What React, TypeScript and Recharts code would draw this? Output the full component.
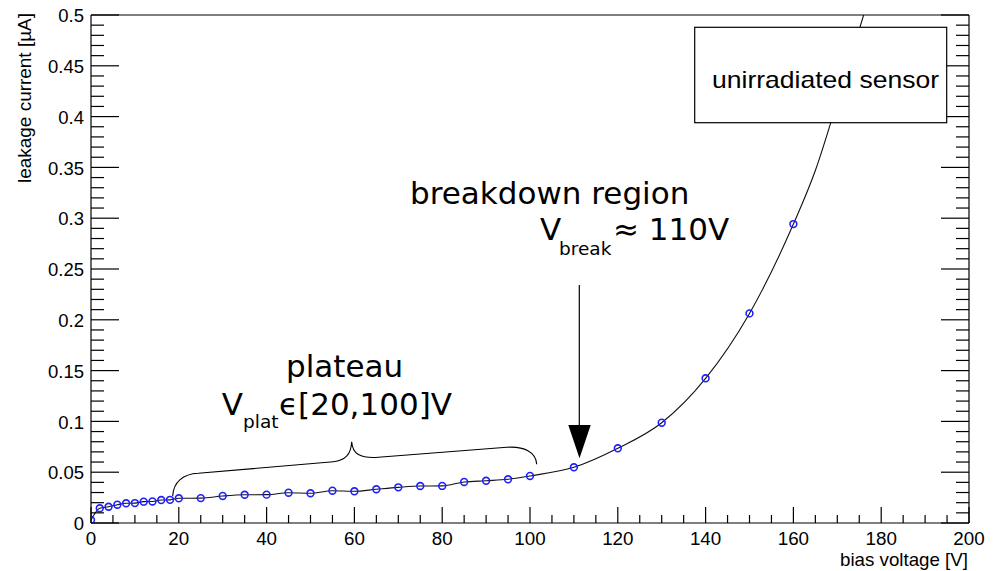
import React from 'react';
import { ComposedChart, Line, Scatter, XAxis, YAxis, Customized } from 'recharts';

// ---------- data ----------
const voltage = [0, 2, 4, 6, 8, 10, 12, 14, 16, 18, 20, 25, 30, 35, 40, 45, 50, 55, 60, 65, 70, 75, 80, 85, 90, 95, 100, 110, 120, 130, 140, 150, 160];
const current = [0.003, 0.0145, 0.016, 0.018, 0.0194, 0.0196, 0.021, 0.0212, 0.0226, 0.0228, 0.0243, 0.0245, 0.0266, 0.0278, 0.0279, 0.0298, 0.0293, 0.0318, 0.0312, 0.0332, 0.0351, 0.0364, 0.0365, 0.0404, 0.0416, 0.043, 0.0463, 0.0548, 0.0735, 0.0987, 0.1424, 0.2063, 0.2942];

const fitVoltage = [0, 2, 4, 6, 8, 10, 12, 14, 16, 18, 20, 25, 30, 35, 40, 45, 50, 55, 60, 65, 70, 75, 80, 85, 90, 95, 100, 110, 120, 130, 140, 150, 160, 165, 170, 176];
const fitCurrent = [0.003, 0.0145, 0.016, 0.018, 0.0194, 0.0196, 0.021, 0.0212, 0.0226, 0.0228, 0.0243, 0.0245, 0.0266, 0.0278, 0.0279, 0.0298, 0.0293, 0.0318, 0.0312, 0.0332, 0.0351, 0.0364, 0.0365, 0.0404, 0.0416, 0.043, 0.0463, 0.0548, 0.0735, 0.0987, 0.1424, 0.2063, 0.2942, 0.347, 0.415, 0.5];

const xMajorTicks = [0, 20, 40, 60, 80, 100, 120, 140, 160, 180, 200];
const xMinorStep = 5;
const yMajorTicks = [0, 0.05, 0.1, 0.15, 0.2, 0.25, 0.3, 0.35, 0.4, 0.45, 0.5];
const yMinorStep = 0.01;

const xTitle = 'bias voltage [V]';
const yTitle = 'leakage current [µA]';
const legendLabel = 'unirradiated sensor';

// ---------- derived ----------
const pointData = voltage.map((v, k) => ({ v, i: current[k] }));
const fitData = fitVoltage.map((v, k) => ({ v, i: fitCurrent[k] }));
const xTicks: number[] = [];
for (let t = 0; t <= 200 + 1e-9; t += xMinorStep) xTicks.push(Math.round(t));
const yTicks: number[] = [];
for (let k = 0; k <= 50; k++) yTicks.push(Math.round(k * yMinorStep * 100) / 100);
const isXMajor = (v: number) => xMajorTicks.some((m) => Math.abs(m - v) < 1e-6);
const isYMajor = (v: number) => yMajorTicks.some((m) => Math.abs(m - v) < 1e-6);

const W = 1000;
const H = 571;
const AX = '#000';
const SW = 1.2;
const TICK_FONT = '"Liberation Sans", Arial, Helvetica, sans-serif';
const ANN_FONT = '"DejaVu Sans", sans-serif';

const BottomTick = (p: any) => {
  const v = p.payload.value;
  const major = isXMajor(v);
  return (
    <g>
      <line x1={p.x} x2={p.x} y1={p.y} y2={p.y - (major ? 16 : 8)} stroke={AX} strokeWidth={SW} />
      {major && (
        <text x={p.x} y={p.y + 22} textAnchor="middle" fontSize={18.8} fontFamily={TICK_FONT} fill="#000">
          {String(v)}
        </text>
      )}
    </g>
  );
};
const TopTick = (p: any) => {
  const v = p.payload.value;
  const major = isXMajor(v);
  return <line x1={p.x} x2={p.x} y1={p.y} y2={p.y + (major ? 16 : 8)} stroke={AX} strokeWidth={SW} />;
};
const LeftTick = (p: any) => {
  const v = p.payload.value;
  const major = isYMajor(v);
  return (
    <g>
      <line x1={p.x} x2={p.x + (major ? 28 : 13)} y1={p.y} y2={p.y} stroke={AX} strokeWidth={SW} />
      {major && (
        <text x={p.x - 7} y={p.y + 7.2} textAnchor="end" fontSize={18.5} fontFamily={TICK_FONT} fill="#000">
          {String(v)}
        </text>
      )}
    </g>
  );
};
const RightTick = (p: any) => {
  const v = p.payload.value;
  const major = isYMajor(v);
  return <line x1={p.x} x2={p.x - (major ? 28 : 13)} y1={p.y} y2={p.y} stroke={AX} strokeWidth={SW} />;
};

const Marker = (p: any) => (
  <circle cx={p.cx} cy={p.cy} r={3.4} fill="none" stroke="#1f1fff" strokeWidth={1.6} />
);

const Annotations = () => {
  return (
    <g>
      {/* axis titles */}
      <text x={968} y={566} textAnchor="end" fontSize={19} fontFamily={TICK_FONT} fill="#000" textLength={128} lengthAdjust="spacingAndGlyphs">
        {xTitle}
      </text>
      <text
        x={0}
        y={0}
        transform="translate(31,13) rotate(-90)"
        textAnchor="end"
        fontSize={19}
        fontFamily={TICK_FONT}
        fill="#000"
        textLength={170}
        lengthAdjust="spacingAndGlyphs"
      >
        {yTitle}
      </text>

      {/* breakdown annotation */}
      <text x={410} y={204.3} fontSize={31} fontFamily={ANN_FONT} fill="#000">breakdown region</text>
      <text x={540} y={240} fontSize={31} fontFamily={ANN_FONT} fill="#000">V</text>
      <text x={559} y={254.5} fontSize={18.5} fontFamily={ANN_FONT} fill="#000">break</text>
      <text x={613} y={240} fontSize={31} fontFamily={ANN_FONT} fill="#000">≈ 110V</text>

      {/* arrow */}
      <line x1={579.3} x2={579.3} y1={285} y2={426} stroke="#000" strokeWidth={1.2} />
      <path d="M568.3,425 L590.7,425 L579.5,458.3 Z" fill="#000" />

      {/* plateau annotation */}
      <text x={286} y={376.7} fontSize={31} fontFamily={ANN_FONT} fill="#000">plateau</text>
      <text x={221.7} y={415} fontSize={31} fontFamily={ANN_FONT} fill="#000">V</text>
      <text x={243} y={428} fontSize={18.5} fontFamily={ANN_FONT} fill="#000">plat</text>
      <text x={279} y={415} fontSize={31} fontFamily={ANN_FONT} fill="#000">ϵ[20,100]V</text>

      {/* brace */}
      <path
        d="M172.7,496 C173.5,482 183,474 198.3,473.3 L333.3,461.7 C345,460.5 351,455 351.7,441.7 C352.5,454 360,458.5 378.3,457.3 L506.7,447.3 C524,446 536,452 536.7,464.3"
        fill="none"
        stroke="#000"
        strokeWidth={1.1}
      />
    </g>
  );
};

export default function App() {
  return (
    <div style={{ position: 'absolute', left: 0, top: 0, width: W, height: H, background: '#fff' }}>
      <ComposedChart width={W} height={H} margin={{ top: 0, right: 0, bottom: 0, left: 0 }}>
        <XAxis
          xAxisId="b"
          type="number"
          dataKey="v"
          domain={[0, 200]}
          ticks={xTicks}
          interval={0}
          tickSize={0}
          tickMargin={0}
          tickLine={false}
          tick={BottomTick}
          height={48}
          axisLine={{ stroke: AX, strokeWidth: SW }}
          allowDataOverflow
        />
        <XAxis
          xAxisId="t"
          orientation="top"
          type="number"
          domain={[0, 200]}
          ticks={xTicks}
          interval={0}
          tickSize={0}
          tickMargin={0}
          tickLine={false}
          tick={TopTick}
          height={15}
          axisLine={{ stroke: AX, strokeWidth: SW }}
          allowDataOverflow
        />
        <YAxis
          yAxisId="l"
          type="number"
          domain={[0, 0.5]}
          ticks={yTicks}
          interval={0}
          tickSize={0}
          tickMargin={0}
          tickLine={false}
          tick={LeftTick}
          width={91}
          axisLine={{ stroke: AX, strokeWidth: SW }}
          allowDataOverflow
        />
        <YAxis
          yAxisId="r"
          orientation="right"
          type="number"
          domain={[0, 0.5]}
          ticks={yTicks}
          interval={0}
          tickSize={0}
          tickMargin={0}
          tickLine={false}
          tick={RightTick}
          width={31}
          axisLine={{ stroke: AX, strokeWidth: SW }}
          allowDataOverflow
        />
        <Line
          xAxisId="b"
          yAxisId="l"
          data={fitData}
          dataKey="i"
          type="monotone"
          stroke="#111"
          strokeWidth={1.1}
          dot={false}
          activeDot={false}
          isAnimationActive={false}
        />
        <Customized component={Annotations} />
        <Scatter
          xAxisId="b"
          yAxisId="l"
          data={pointData}
          dataKey="i"
          shape={Marker}
          isAnimationActive={false}
        />
      </ComposedChart>
      <svg
        width={260}
        height={105}
        style={{ position: 'absolute', left: 690, top: 22, pointerEvents: 'none' }}
      >
        <rect x={4.7} y={5.3} width={252} height={95.4} fill="#fff" stroke="#000" strokeWidth={1.2} />
        <text x={22} y={66.3} fontSize={24} fontFamily={TICK_FONT} fill="#000" textLength={227} lengthAdjust="spacingAndGlyphs">
          {legendLabel}
        </text>
      </svg>
    </div>
  );
}
